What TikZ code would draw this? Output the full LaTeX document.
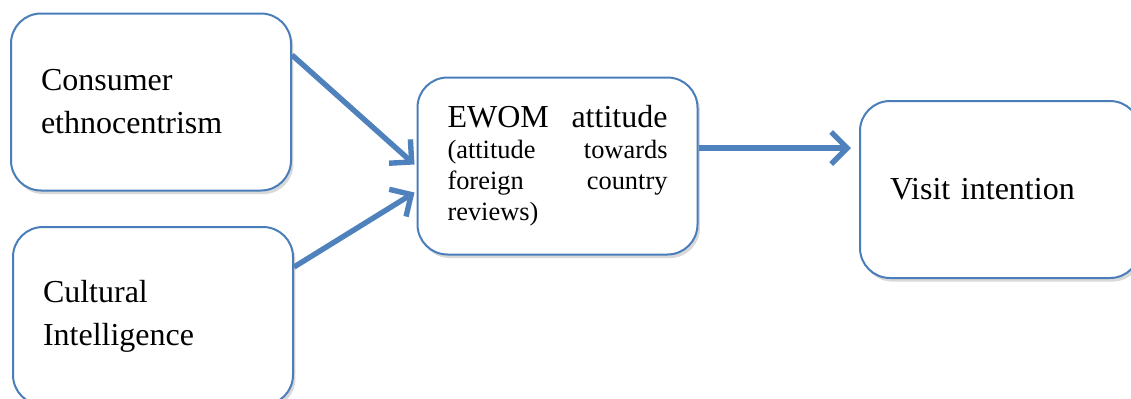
\documentclass[tikz,border=0pt]{standalone}
\usepackage{fontspec}
\setmainfont{Liberation Serif}
\usetikzlibrary{arrows.meta,shadows}
\definecolor{boxblue}{HTML}{4A7EBB}
\definecolor{arrowblue}{HTML}{4F81BD}
\newcommand{\bigtext}{\rmfamily\fontsize{16}{21.5}\selectfont}
\newcommand{\smalltext}{\rmfamily\fontsize{13.2}{15.5}\selectfont}
\tikzset{
  modelbox/.style={draw=boxblue, line width=1pt, fill=white, rounded corners=15pt,
    minimum width=140pt, minimum height=88.5pt, inner xsep=15pt, inner ysep=0pt,
    text width=110pt, align=left,
    drop shadow={opacity=0.3, shadow xshift=1.2pt, shadow yshift=-1.8pt},
    font=\bigtext},
  pathline/.style={draw=arrowblue, line width=2.7pt,
    -{Straight Barb[length=8pt,width=16pt]}}
}
\begin{document}
\begin{tikzpicture}[x=0.5pt,y=-0.5pt]
        \useasboundingbox (0,0) rectangle (1131,398);
        \node[modelbox] (cons) at (151,102) {Consumer\\ethnocentrism};
        \node[modelbox,minimum height=89pt] (cult) at (153,316) {Cultural\\Intelligence};
        \node[modelbox,font=\smalltext] (ewom) at (557.5,166) {{\bigtext EWOM \hfill attitude\par}(attitude \hfill towards\\foreign \hfill country\\reviews)};
        \node[modelbox] (visit) at (1000,189.5) {Visit intention};
        \draw[pathline] ([yshift=23.5pt]cons.east) -- ([xshift=-1pt,yshift=0.75pt]ewom.west);
        \draw[pathline] ([yshift=24.5pt]cult.east) -- ([xshift=-1pt,yshift=-13.25pt]ewom.west);
        \draw[pathline] ([yshift=9pt]ewom.east) -- ([xshift=-4pt,yshift=20.75pt]visit.west);
\end{tikzpicture}
\end{document}
